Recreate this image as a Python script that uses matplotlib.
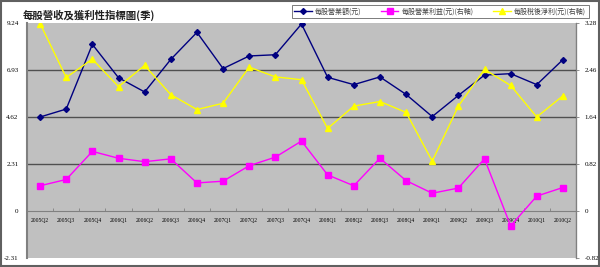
import matplotlib
matplotlib.use("Agg")
import matplotlib.pyplot as plt
from matplotlib.patches import Rectangle

plt.rcParams['font.family'] = ['Noto Sans CJK TC', 'DejaVu Sans']

quarters = ["2005Q2", "2005Q3", "2005Q4", "2006Q1", "2006Q2", "2006Q3", "2006Q4",
            "2007Q1", "2007Q2", "2007Q3", "2007Q4", "2008Q1", "2008Q2", "2008Q3",
            "2008Q4", "2009Q1", "2009Q2", "2009Q3", "2009Q4", "2010Q1", "2010Q2"]

# 每股營業額 (left axis)
revenue = [4.62, 5.01, 8.19, 6.55, 5.85, 7.45, 8.78,
           7.00, 7.62, 7.68, 9.19, 6.57, 6.21, 6.59,
           5.73, 4.64, 5.68, 6.68, 6.75, 6.21, 7.44]
# 每股營業利益 (right axis)
op_income = [0.44, 0.55, 1.04, 0.92, 0.86, 0.91, 0.49,
             0.52, 0.79, 0.94, 1.22, 0.63, 0.44, 0.92,
             0.53, 0.31, 0.40, 0.91, -0.26, 0.26, 0.41]
# 每股稅後淨利 (right axis)
net_income = [3.27, 2.33, 2.65, 2.17, 2.54, 2.03, 1.77,
              1.88, 2.51, 2.34, 2.29, 1.44, 1.83, 1.91,
              1.72, 0.87, 1.83, 2.47, 2.19, 1.64, 2.01]

left_ticks = [-2.31, 0, 2.31, 4.62, 6.93, 9.24]
right_ticks = [-0.82, 0, 0.82, 1.64, 2.46, 3.28]

fig = plt.figure(figsize=(6, 2.67), dpi=100)
ax = fig.add_axes([27 / 600, 1 - 258 / 267, (576 - 27) / 600, (258 - 23) / 267])
ax2 = ax.twinx()

ax.set_facecolor('#C0C0C0')
x = list(range(len(quarters)))

for t in left_ticks[2:-1]:
    ax.axhline(t, color='#505050', lw=1, zorder=1)

l1, = ax.plot(x, revenue, color='#000080', marker='D', ms=3, lw=1, zorder=3)
l2, = ax2.plot(x, op_income, color='#FF00FF', marker='s', ms=4, lw=1, zorder=3)
l3, = ax2.plot(x, net_income, color='#FFFF00', marker='^', ms=4, lw=1, zorder=3)

ax.set_xlim(-0.5, len(quarters) - 0.5)
ax.set_ylim(left_ticks[0], left_ticks[-1])
ax2.set_ylim(right_ticks[0], right_ticks[-1])

ax.set_yticks(left_ticks)
ax.set_yticklabels([format(t, "g") for t in left_ticks], fontsize=5,
                   family='Liberation Serif')
ax2.set_yticks(right_ticks)
ax2.set_yticklabels([format(t, "g") for t in right_ticks], fontsize=5,
                    family='Liberation Serif')
ax.tick_params(axis='y', length=0, pad=6)
ax2.tick_params(axis='y', length=2, width=0.6, color='#808080', pad=4)

ax.spines['bottom'].set_position(('data', 0))
ax.spines['bottom'].set_color('#808080')
ax.set_xticks(x)
ax.set_xticklabels(quarters, fontsize=4, family='Liberation Serif')
ax.set_xticks([i + 0.5 for i in x[:-1]], minor=True)
ax.tick_params(axis='x', which='major', length=0, pad=5)
ax.tick_params(axis='x', which='minor', length=2, width=0.6, color='#808080', direction='in')

for a in (ax, ax2):
    a.spines['top'].set_visible(False)
ax.spines['left'].set_color('#808080')
ax.spines['left'].set_linewidth(1.5)
ax2.spines['bottom'].set_visible(False)
ax2.spines['left'].set_visible(False)
ax2.spines['right'].set_color('#808080')

fig.text(23 / 600, 1 - 15 / 267, "每股營收及獲利性指標圖(季)", fontsize=7.5,
         va='center', ha='left', weight='bold', color='#202020')

leg = fig.legend([l1, l2, l3], ["每股營業額(元)", "每股營業利益(元)(右軸)", "每股稅後淨利(元)(右軸)"],
                 loc='upper right', bbox_to_anchor=(592 / 600, 1 - 2 / 267), ncol=3,
                 fontsize=5, frameon=True, fancybox=False, edgecolor='#404040',
                 handlelength=2.5, columnspacing=2.8, borderpad=0.35, handletextpad=0.5)
leg.get_frame().set_linewidth(0.6)
for txt in leg.get_texts():
    txt.set_color('#404040')

fig.patches.append(Rectangle((0.002, 0.004), 0.996, 0.992, transform=fig.transFigure,
                             fill=False, edgecolor='#606060', lw=1.5))

plt.savefig("out.png", dpi=100)
